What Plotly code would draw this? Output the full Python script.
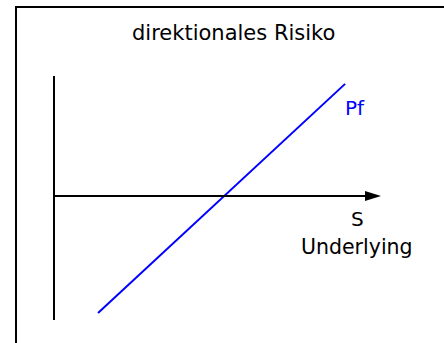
import plotly.graph_objects as go

# ---- data (conceptual units: S on x, portfolio value Pf on y) ----
underlying_S = [1.35, 8.93]
portfolio_Pf = [-3.59, 3.44]
series_name = "Pf"
title_text = "direktionales Risiko"
x_label_short = "S"
x_label_long = "Underlying"

# ---- layout helpers ----
W, H = 444, 343
PX = 32.6            # pixels per unit
X0_PX, Y0_PX = 54, 196   # pixel position of origin
xmin = -X0_PX / PX
xmax = xmin + W / PX
ymax = Y0_PX / PX
ymin = ymax - H / PX

def dx(px):
    return (px - X0_PX) / PX

def dy(py):
    return (Y0_PX - py) / PX

fig = go.Figure()
fig.add_trace(go.Scatter(
    x=underlying_S, y=portfolio_Pf, mode="lines",
    line=dict(color="#0000FF", width=2), name=series_name,
    hoverinfo="skip"))

shapes = [
    # frame (top + left)
    dict(type="line", xref="paper", yref="paper", x0=16/W, x1=16/W, y0=0, y1=1 - 6/H,
         line=dict(color="black", width=2)),
    dict(type="line", xref="paper", yref="paper", x0=15/W, x1=1, y0=1 - 7/H, y1=1 - 7/H,
         line=dict(color="black", width=2)),
    # vertical axis
    dict(type="line", xref="x", yref="y", x0=0, x1=0, y0=dy(76), y1=dy(320),
         line=dict(color="black", width=2)),
    # horizontal axis
    dict(type="line", xref="x", yref="y", x0=0, x1=dx(368), y0=0, y1=0,
         line=dict(color="black", width=2)),
    # arrow head
    dict(type="path", xref="x", yref="y",
         path=f"M {dx(365)} {dy(191)} L {dx(381)} {dy(196)} L {dx(365)} {dy(201)} Z",
         fillcolor="black", line=dict(color="black", width=0)),
]

font_family = "DejaVu Sans"
annotations = [
    dict(text=title_text, x=dx(233), y=dy(33), xref="x", yref="y", showarrow=False,
         font=dict(family=font_family, size=21, color="black"), xanchor="center", yanchor="middle"),
    dict(text=series_name, x=dx(355), y=dy(108), xref="x", yref="y", showarrow=False,
         font=dict(family=font_family, size=20, color="#0000FF"), xanchor="center", yanchor="middle"),
    dict(text=x_label_short, x=dx(357), y=dy(219), xref="x", yref="y", showarrow=False,
         font=dict(family=font_family, size=20, color="black"), xanchor="center", yanchor="middle"),
    dict(text=x_label_long, x=dx(357), y=dy(247), xref="x", yref="y", showarrow=False,
         font=dict(family=font_family, size=20.5, color="black"), xanchor="center", yanchor="middle"),
]

fig.update_layout(
    width=W, height=H,
    margin=dict(l=0, r=0, t=0, b=0),
    paper_bgcolor="white", plot_bgcolor="white",
    showlegend=False,
    xaxis=dict(range=[xmin, xmax], visible=False, fixedrange=True),
    yaxis=dict(range=[ymin, ymax], visible=False, fixedrange=True),
    shapes=shapes, annotations=annotations,
)

fig.write_html("out.html", config={"displayModeBar": False},
               post_script="document.body.style.margin='0';document.body.style.overflow='hidden';")
